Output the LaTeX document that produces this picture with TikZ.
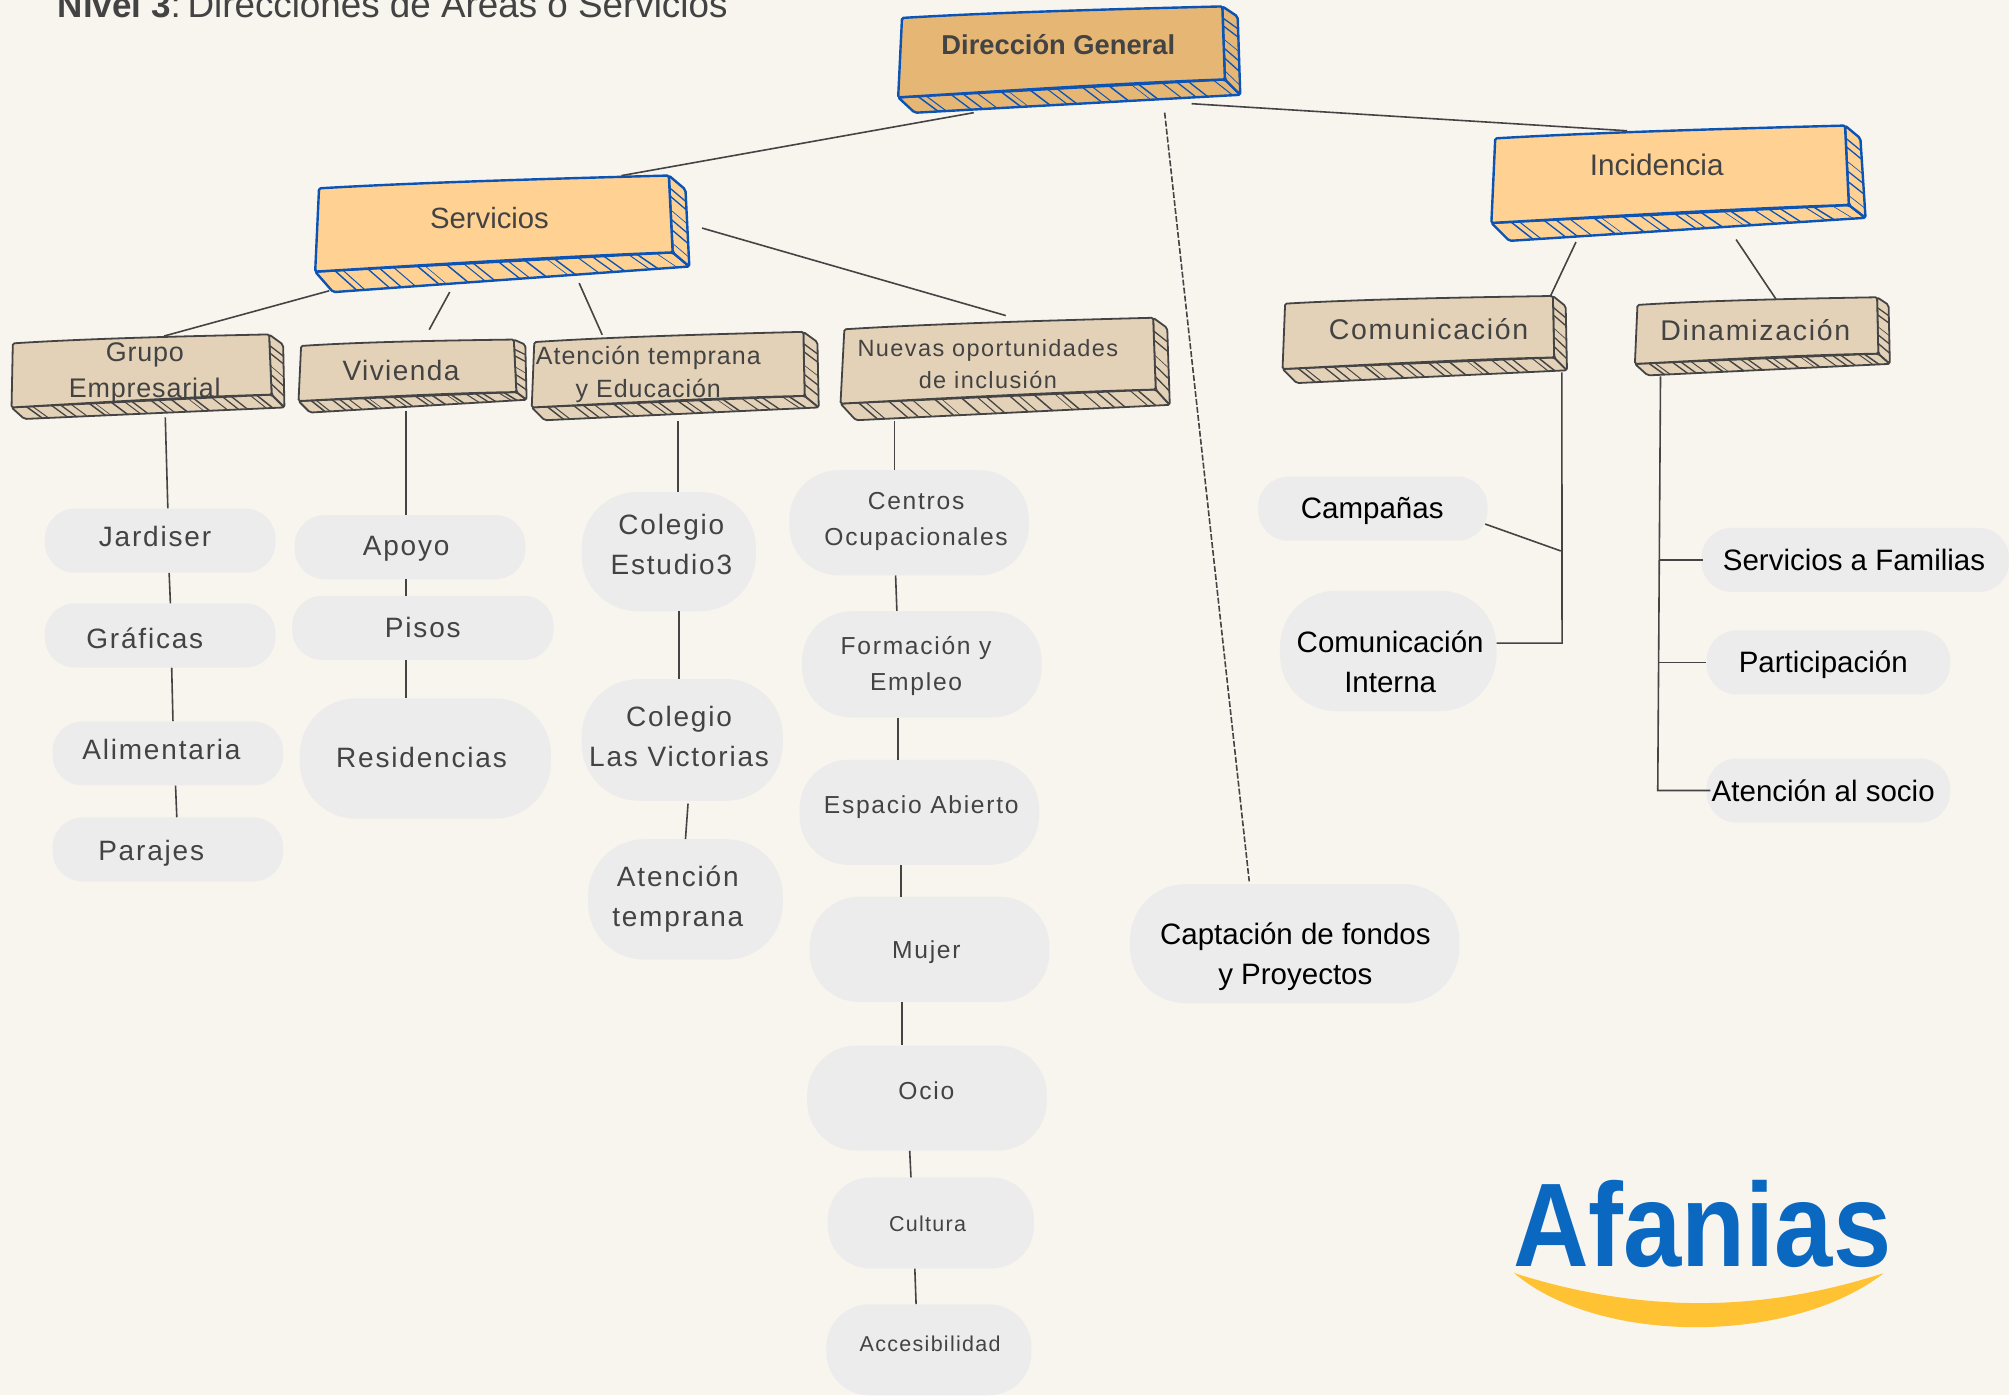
\documentclass[tikz,border=0pt]{standalone}
\usepackage{fontspec}
\setmainfont{Liberation Sans}
\usetikzlibrary{calc,fit}
\definecolor{bgc}{HTML}{F8F5EE}
\definecolor{pillc}{HTML}{ECECEC}
\definecolor{inkc}{HTML}{434343}
\definecolor{linkc}{HTML}{444444}
\definecolor{blueS}{HTML}{0B53B5}
\definecolor{goldF}{HTML}{E6B674}
\definecolor{peachF}{HTML}{FFD294}
\definecolor{sandF}{HTML}{E3D2B8}
\definecolor{logoB}{HTML}{0A68C0}
\definecolor{logoY}{HTML}{FFC233}
\newcommand\fsz[3]{\fontsize{#1}{#2}\selectfont\addfontfeatures{LetterSpace=#3}}
\tikzset{
  hn/.store in=\hn, hn=20, sn/.store in=\sn, sn=6,
  goldbox/.style={fill=goldF,draw=blueS,line width=2.4pt,hn=19,sn=6},
  peachbox/.style={fill=peachF,draw=blueS,line width=2.4pt,hn=21,sn=6},
  sandbox/.style={fill=sandF,draw=linkc,line width=1.8pt,hn=20,sn=5},
  pillbg/.style={fill=pillc,draw=none,inner sep=0pt},
  pilltxt/.style={text=inkc,inner sep=0pt,align=center},
  pillA/.style={pilltxt,font=\fsz{28}{40}{6.5}},
  pillB/.style={pilltxt,font=\fsz{24.6}{36}{7}},
  pillC/.style={pilltxt,font=\fsz{21.5}{28}{6}},
  pillK/.style={pilltxt,text=black,font=\fsz{29.5}{40}{0}},
  boxtxt/.style={text=inkc,inner sep=0pt,align=center},
  conn/.style={draw=linkc,line width=1.6pt},
  connd/.style={draw=linkc,line width=1.6pt,dash pattern=on 6pt off 2pt},
}
% name, TL, TR, TR2, BR, BR2, BL, BL2, style
\newcommand\skbox[9]{%
 \begin{scope}[#9,line join=round]
  \coordinate (TL) at (#2); \coordinate (TR) at (#3); \coordinate (TRb) at (#4);
  \coordinate (BR) at (#5); \coordinate (BRb) at (#6); \coordinate (BL) at (#7); \coordinate (BLb) at (#8);
  \path[rounded corners=2pt,fill,draw] (BL) -- (BLb) -- (BRb) -- (BR) -- cycle;
  \path[rounded corners=2pt,fill,draw] (TR) -- (TRb) -- (BRb) -- (BR) -- cycle;
  \foreach \i in {1,...,\hn}{%
    \pgfmathsetmacro\tta{(\i+0.3*sin(\i*137))/(\hn+1)}
    \pgfmathsetmacro\ttb{min(\tta+0.012,0.995)}
    \pgfmathsetmacro\lww{0.6+0.9*abs(sin(\i*77))}
    \draw[line width=\lww pt] ($(BL)!\tta!(BR)$) -- ($(BLb)!\ttb!(BRb)$);
  }
  \foreach \i in {1,...,\sn}{%
    \pgfmathsetmacro\tta{(\i+0.15*sin(\i*137))/(\sn+1)}
    \pgfmathsetmacro\lww{0.6+0.8*abs(sin(\i*59))}
    \draw[line width=\lww pt] ($(TR)!\tta!(BR)$) -- ($(TRb)!\tta!(BRb)$);
  }
  \path[fill,draw,rounded corners=1.5pt] (TL) .. controls ($(TL)!.3!(TR)+(0,-1.8)$) and ($(TL)!.7!(TR)+(0,-.8)$) .. (TR)
     -- (BR) .. controls ($(BR)!.3!(BL)+(0,-1.5)$) and ($(BR)!.7!(BL)+(0,-.5)$) .. (BL) -- cycle;
  \node[fit=(TL)(TR)(TRb)(BRb)(BLb)(BL),inner sep=0pt,draw=none,fill=none] (#1) {};
 \end{scope}}
% name, cx, cy, w, h, tx, ty, text, style
\newcommand\pill[9]{%
  \node[pillbg,minimum width=1.28125*#4 pt,minimum height=1.28125*#5 pt,rounded corners=0.6*#5 pt] (#1) at (#2,#3) {};
  \node[#9] (#1-t) at (#6,#7) {#8};}
\newcommand\lk[5][conn]{\draw[#1] ($(#2)+(#3)$) -- ($(#4)+(#5)$);}
\begin{document}
\begin{tikzpicture}[x=1.28125pt,y=-1.28125pt]
\useasboundingbox (0,0) rectangle (1568,1088.78);
\fill[bgc] (0,0) rectangle (1568,1088.78);
\node[anchor=base west,inner sep=0pt,text=inkc,font=\fsz{36.8}{40}{0}] (title) at (45,14) {{\fontsize{35}{40}\selectfont\textbf{Nivel 3}}:\hspace{-7pt} Direcciones de Áreas o Servicios};

% pills
\pill{jar}{125}{422}{180}{50}{121}{419}{Jardiser}{pillA}
\pill{gra}{125}{496}{180}{50}{113}{498}{Gráficas}{pillA}
\pill{ali}{131}{588}{180}{50}{126}{585}{Alimentaria}{pillA}
\pill{par}{131}{663}{180}{50}{118}{666}{Parajes}{pillA}
\pill{apo}{320}{427}{180}{50}{317}{428}{Apoyo}{pillA}
\pill{pis}{330}{490}{204}{50}{330}{490}{Pisos}{pillA}
\pill{res}{332}{592}{196}{94}{329}{591}{Residencias}{pillA}
\pill{est}{522}{430.5}{136}{93}{524}{425}{Colegio\\Estudio3}{pillA}
\pill{vic}{532.5}{577.5}{157}{95}{530}{575}{Colegio\\Las Victorias}{pillA}
\pill{ten}{535}{702}{152}{94}{529}{701.5}{Atención\\temprana}{pillA}
\pill{cen}{709.5}{408}{187}{82}{715}{407}{Centros\\Ocupacionales}{pillB}
\pill{for}{719.5}{518.5}{187}{83}{715}{520}{Formación y\\Empleo}{pillB}
\pill{esp}{717.5}{634}{187}{82}{719}{630}{Espacio Abierto}{pillB}
\pill{muj}{725.5}{741}{187}{82}{723}{743}{Mujer}{pillB}
\pill{oci}{723.5}{857}{187}{82}{723}{851}{Ocio}{pillB}
\pill{cul}{726.5}{954.5}{161}{71}{724}{955}{Cultura}{pillC}
\pill{acc}{725}{1053.5}{160}{71}{726}{1049}{Accesibilidad}{pillC}
\pill{cam}{1071.5}{397}{179}{50}{1071}{399}{Campañas}{pillK}
\pill{int}{1083.5}{508}{169}{94}{1085}{516.5}{Comunicación\\Interna}{pillK}
\pill{fam}{1448}{437}{240}{50}{1447}{437}{Servicios a Familias}{pillK}
\pill{pa2}{1427}{517}{190}{50}{1423}{519}{Participación}{pillK}
\pill{soc}{1427}{617}{190}{50}{1423}{617}{Atención al socio}{pillK}
\pill{cap}{1010.5}{736.5}{257}{93}{1011}{746.5}{Captación de fondos\\y Proyectos}{pillK}

% boxes
\skbox{dir}{704,14}{954,5}{966,13}{956,62}{968,74}{701,76}{714,88}{goldbox}
\skbox{ser}{249,147}{522,137}{535,148}{525,197}{538,208}{246,212}{260,228}{peachbox}
\skbox{inc}{1167,108}{1440,98}{1452,108}{1443,160}{1456,170}{1164,174}{1178,188}{peachbox}
\skbox{gru}{10,268}{210,261}{221,269}{212,308}{222,318}{9,318}{19,327}{sandbox}
\skbox{viv}{235,270}{401,265}{410,269}{403,306}{411,312}{233,313}{242,322}{sandbox}
\skbox{ate}{417,267}{627,259}{638,267}{628,309}{639,318}{415,318}{425,328}{sandbox}
\skbox{nue}{659,257}{900,248}{911,256}{902,304}{913,316}{656,315}{668,328}{sandbox}
\skbox{com}{1003,237}{1212,231}{1222,239}{1213,279}{1223,289}{1001,288}{1012,299}{sandbox}
\skbox{din}{1278,238}{1465,232}{1474,238}{1466,276}{1475,284}{1276,284}{1286,293}{sandbox}

\node[boxtxt,font=\fsz{27.3}{34}{0}\bfseries] (dir-t) at (826,35) {Dirección General};
\node[boxtxt,font=\fsz{29.3}{34}{0}] (ser-t) at (382,170) {Servicios};
\node[boxtxt,font=\fsz{29.7}{34}{0}] (inc-t) at (1293,129) {Incidencia};
\node[boxtxt,font=\fsz{26.9}{36}{3}] (gru-t) at (113,291) {Grupo\\Empresarial};
\node[boxtxt,font=\fsz{28}{36}{5}] (viv-t) at (313,289) {Vivienda};
\node[boxtxt,font=\fsz{25}{33}{4}] (ate-t) at (506,292.5) {Atención temprana\\y Educación};
\node[boxtxt,font=\fsz{23.5}{32}{6}] (nue-t) at (771,284) {Nuevas oportunidades\\de inclusión};
\node[boxtxt,font=\fsz{28.5}{34}{6}] (com-t) at (1115,257) {Comunicación};
\node[boxtxt,font=\fsz{28.5}{34}{6}] (din-t) at (1370,258) {Dinamización};

% connectors
\lk{dir.south}{-74.5,-1}{ser.north}{93,1}
\lk{dir.south}{95.5,-8}{inc.north}{-40,5}
\lk[connd]{dir.south}{74.5,-1}{cap.north}{-35.5,-2}
\lk{ser.south}{-135,-2}{gru.north}{12.5,2}
\lk{ser.south}{-41,-1}{viv.north}{13,-7}
\lk{ser.south}{60,-8}{ate.north}{-57,3}
\lk{ser.east}{9,-4.5}{nue.north}{.5,-1}
\lk{gru.south}{13.5,-2}{jar.north}{6,0}
\lk{jar.south}{7,0}{gra.north}{8,0}
\lk{gra.south}{9,0}{ali.north}{4,0}
\lk{ali.south}{6,0}{par.north}{7,0}
\lk{viv.south}{-5,-2}{apo.north}{-3,0}
\lk{apo.south}{-3,0}{pis.north}{-13,0}
\lk{pis.south}{-13,0}{res.north}{-15,0}
\lk{ate.south}{2,0}{est.north}{7,0}
\lk{est.south}{8,0}{vic.north}{-2.5,0}
\lk{vic.south}{4.5,2}{ten.north}{0,0}
\lk{nue.south}{-86.5,0}{cen.north}{-11.5,0}
\lk{cen.south}{-10.5,0}{for.north}{-19.5,0}
\lk{for.south}{-18.5,0}{esp.north}{-16.5,0}
\lk{esp.south}{-14.5,0}{muj.north}{-22.5,0}
\lk{muj.south}{-21.5,0}{oci.north}{-19.5,0}
\lk{oci.south}{-13.5,0}{cul.north}{-15.5,0}
\lk{cul.south}{-12.5,0}{acc.north}{-10,0}
\lk{inc.south}{-80,0}{com.north}{98,1}
\lk{inc.south}{45,-2}{din.north}{10.5,2}
\draw[conn] ($(com.south)+(107,-9)$) -- ($(int.east)+(51,-6)$) -- ($(int.east)+(0,-6)$);
\lk{cam.east}{-2,12}{int.east}{50,-78}
\draw[conn] ($(din.south)+(-79.5,0)$) -- ($(soc.west)+(-38,0)$) -- ($(soc.west)+(3,0)$);
\lk{fam.west}{-33,0}{fam.west}{1,0}
\lk{pa2.west}{-37,0}{pa2.west}{0,0}

% logo
\begin{scope}[x=1pt,y=-1pt]
\node[anchor=base west,inner sep=0pt,text=logoB,font=\fsz{119}{120}{0}\bfseries,xscale=0.88,transform shape] (logo) at (1513,1266) {Afanias};
\fill[logoY,rounded corners=1pt] (1514,1273) .. controls (1640,1313) and (1760,1313) .. (1884,1273) .. controls (1790,1345) and (1600,1345) .. cycle;
\end{scope}
\end{tikzpicture}
\end{document}
